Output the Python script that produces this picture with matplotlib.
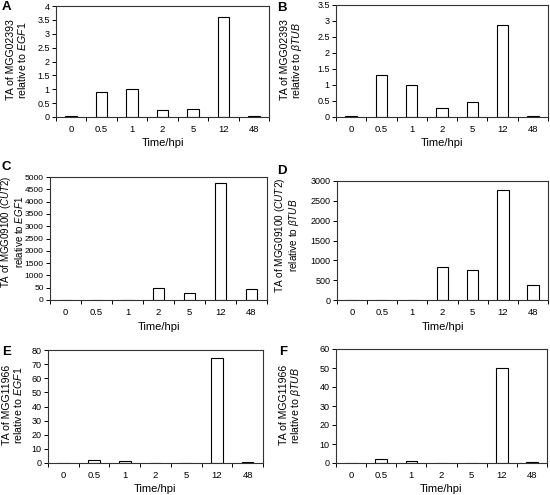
import numpy as np
import matplotlib
matplotlib.use("Agg")
import matplotlib.pyplot as plt
from matplotlib.ticker import FixedLocator

plt.rcParams['font.family'] = ['Liberation Sans', 'DejaVu Sans']
plt.rcParams['mathtext.fontset'] = 'custom'
plt.rcParams['mathtext.rm'] = 'Liberation Sans'
plt.rcParams['mathtext.it'] = 'Liberation Sans:italic'

times = ['0', '0.5', '1', '2', '5', '12', '48']

mgg02393_egf1 = [0.03, 0.9, 1.0, 0.25, 0.3, 3.62, 0.03]
mgg02393_btub = [0.03, 1.3, 1.0, 0.27, 0.48, 2.88, 0.03]
mgg09100_egf1 = [0, 0, 0, 50, 30, 4750, 45]
mgg09100_btub = [0, 0, 0, 830, 760, 2770, 380]
mgg11966_egf1 = [0, 2.0, 1.2, 0, 0, 74, 0.7]
mgg11966_btub = [0, 2.0, 0.9, 0, 0, 50, 0.5]

# broken axis for panel C: 0, 50, then 1000..5000 evenly spaced
c_ticks = [0, 50, 1000, 1500, 2000, 2500, 3000, 3500, 4000, 4500, 5000]
c_pos = np.arange(len(c_ticks), dtype=float)

def c_fwd(v):
    return np.interp(v, c_ticks, c_pos)

def c_inv(p):
    return np.interp(p, c_pos, c_ticks)

fig = plt.figure(figsize=(5.5, 4.95), dpi=100)
W, H = 550.0, 495.0

def axes_px(l, t, r, b):
    return fig.add_axes([l / W, 1 - b / H, (r - l) / W, (b - t) / H])

panels = [
    # letter, box (l, t, r, b), values, ymax, ystep, label, label size,
    # letter pos, label centre (x, y) in px
    ('A', (56, 6, 269, 117), mgg02393_egf1, 4, 0.5,
     'TA of MGG02393\nrelative to $\\mathit{EGF1}$', 7.6, (2, 1), (17, 60)),
    ('B', (336, 5, 548, 117), mgg02393_btub, 3.5, 0.5,
     'TA of MGG02393\nrelative to $\\mathit{\\beta TUB}$', 7.6, (277, 2), (292, 60)),
    ('C', (50, 177, 267, 300), mgg09100_egf1, None, None,
     'TA of MGG09100 ($\\mathit{CUT2}$)\nrelative to $\\mathit{EGF1}$', 7.0, (2, 161), (12, 232)),
    ('D', (337, 181, 548, 300), mgg09100_btub, 3000, 500,
     'TA of MGG09100 ($\\mathit{CUT2}$)\nrelative to $\\mathit{\\beta TUB}$', 7.2, (277, 165), (287, 235)),
    ('E', (48, 350, 263, 463), mgg11966_egf1, 80, 10,
     'TA of MGG11966\nrelative to $\\mathit{EGF1}$', 7.6, (2, 346), (13, 405)),
    ('F', (336, 349, 547, 463), mgg11966_btub, 60, 10,
     'TA of MGG11966\nrelative to $\\mathit{\\beta TUB}$', 7.6, (279, 346), (291, 405)),
]

x = np.arange(len(times))
for letter, box, vals, ymax, ystep, ylab, lsize, lpos, lc in panels:
    ax = axes_px(*box)
    ysize = 6.5
    if letter == 'C':
        ax.set_yscale('function', functions=(c_fwd, c_inv))
        ax.set_ylim(0, 5000)
        ax.yaxis.set_major_locator(FixedLocator(c_ticks))
        ax.set_yticklabels([str(t) for t in c_ticks])
        ysize = 6
    else:
        ax.set_ylim(0, ymax)
        yt = np.arange(0, ymax + ystep / 2, ystep)
        ax.set_yticks(yt)
        ax.set_yticklabels(['%g' % t for t in yt])
    ax.bar(x, vals, width=0.38, color='white', edgecolor='black', linewidth=0.8)
    ax.set_xlim(-0.5, len(times) - 0.5)
    ax.set_xticks(x)
    ax.set_xticklabels(times)
    ax.set_xticks(np.arange(-0.5, len(times)), minor=True)
    ax.tick_params(axis='x', which='major', length=0, labelsize=6.8, pad=6)
    ax.tick_params(axis='x', which='minor', length=3, width=0.7, direction='out')
    ax.tick_params(axis='y', length=3, width=0.7, direction='out', labelsize=ysize, pad=1.5)
    for s in ax.spines.values():
        s.set_linewidth(0.8)
        s.set_color('#333333')
    ax.set_xlabel('Time/hpi', fontsize=8, labelpad=3)
    ax.set_ylabel(ylab, fontsize=lsize, linespacing=1.05, va='center')
    ax.yaxis.set_label_coords((lc[0] - box[0]) / (box[2] - box[0]),
                              (box[3] - lc[1]) / (box[3] - box[1]))
    fig.text(lpos[0] / W, 1 - lpos[1] / H, letter, fontsize=9.5, fontweight='bold',
             ha='left', va='top')

fig.savefig('out.png', dpi=100)
